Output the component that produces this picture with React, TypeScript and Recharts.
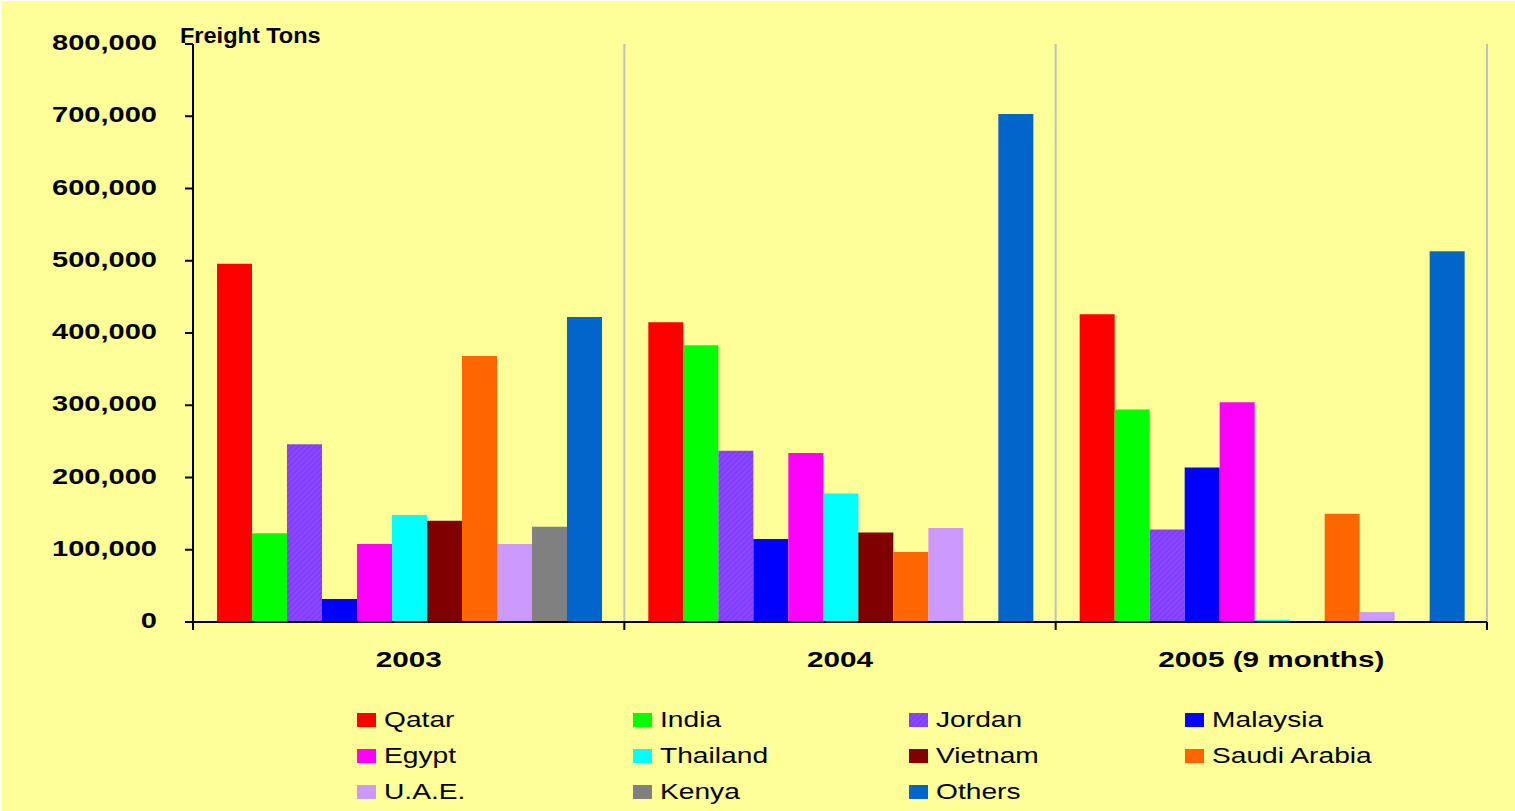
import { BarChart, Bar, XAxis, YAxis, CartesianGrid, Legend, Label } from "recharts";

const years = ["2003", "2004", "2005 (9 months)"];

// freight tons per destination, one value per year
const qatar = [496000, 415000, 426000];
const india = [123000, 383000, 294000];
const jordan = [246000, 237000, 128000];
const malaysia = [32000, 115000, 214000];
const egypt = [108000, 234000, 304000];
const thailand = [148000, 178000, 3000];
const vietnam = [140000, 124000, null];
const saudiArabia = [368000, 97000, 150000];
const uae = [108000, 130000, 14000];
const kenya = [132000, null, null];
const others = [422000, 703000, 513000];

const yTicks = [0, 100000, 200000, 300000, 400000, 500000, 600000, 700000, 800000];

const series: { name: string; values: (number | null)[] }[] = [
  { name: "Qatar", values: qatar },
  { name: "India", values: india },
  { name: "Jordan", values: jordan },
  { name: "Malaysia", values: malaysia },
  { name: "Egypt", values: egypt },
  { name: "Thailand", values: thailand },
  { name: "Vietnam", values: vietnam },
  { name: "Saudi Arabia", values: saudiArabia },
  { name: "U.A.E.", values: uae },
  { name: "Kenya", values: kenya },
  { name: "Others", values: others },
];

const colors: Record<string, string> = {
  Qatar: "#FF0000",
  India: "#00FF00",
  Jordan: "url(#jordanHatch)",
  Malaysia: "#0000FF",
  Egypt: "#FF00FF",
  Thailand: "#00FFFF",
  Vietnam: "#800000",
  "Saudi Arabia": "#FF6600",
  "U.A.E.": "#CC99FF",
  Kenya: "#808080",
  Others: "#0066CC",
};

const data = years.map((year, i) => {
  const row: Record<string, string | number | null> = { year };
  series.forEach((s) => {
    row[s.name] = s.values[i];
  });
  return row;
});

const CHART_W = 1515;
const CHART_H = 811;
const MARGIN = { top: 44, right: 28, left: 0, bottom: 129 };
const Y_AXIS_W = 193;
const X_AXIS_H = 60;
const PLOT_LEFT = MARGIN.left + Y_AXIS_W;
const PLOT_W = CHART_W - PLOT_LEFT - MARGIN.right;
const PLOT_BOTTOM = CHART_H - MARGIN.bottom - X_AXIS_H;
const BAND = PLOT_W / years.length;

const FONT = "'Liberation Sans', Arial, sans-serif";
const STRETCH = 1.32;
const BG = "#FFFF99";

const fmt = (v: number) => v.toLocaleString("en-US");

const YTick = ({ x, y, payload }: any) => (
  <text
    transform={`translate(${x},${y}) scale(${STRETCH},1)`}
    textAnchor="end"
    dy={6}
    fontFamily={FONT}
    fontWeight="bold"
    fontSize={22}
    fill="#000"
  >
    {fmt(payload.value)}
  </text>
);

// category label plus the boundary tick marks on each side of the band
const XTick = ({ x, payload, index }: any) => {
  const half = BAND / 2;
  return (
    <g>
      <line x1={x - half} x2={x - half} y1={PLOT_BOTTOM} y2={PLOT_BOTTOM + 8} stroke="#000" strokeWidth={2} />
      {index === years.length - 1 && (
        <line x1={x + half} x2={x + half} y1={PLOT_BOTTOM} y2={PLOT_BOTTOM + 8} stroke="#000" strokeWidth={2} />
      )}
      <text
        transform={`translate(${x},${PLOT_BOTTOM + 45}) scale(${STRETCH},1)`}
        textAnchor="middle"
        fontFamily={FONT}
        fontWeight="bold"
        fontSize={22.5}
        fill="#000"
      >
        {payload.value}
      </text>
    </g>
  );
};

// legend keeps the series order, four entries per row
const renderLegend = (props: any) => {
  const entries = series
    .map((s) => (props.payload || []).find((e: any) => e.value === s.name))
    .filter(Boolean);
  return (
    <div
      style={{
        display: "grid",
        gridTemplateColumns: "repeat(4, 276px)",
        gridAutoRows: "36px",
        paddingLeft: 357,
        fontFamily: FONT,
        color: "#000",
      }}
    >
      {entries.map((entry: any) => (
        <div key={entry.value} style={{ display: "flex", alignItems: "center" }}>
          <svg width={19} height={14} style={{ marginRight: 8, flex: "none" }}>
            <rect width={19} height={14} fill={entry.color} />
          </svg>
          <span
            style={{
              fontSize: 21.5,
              lineHeight: "36px",
              whiteSpace: "nowrap",
              display: "inline-block",
              transform: "scaleX(1.31)",
              transformOrigin: "left center",
            }}
          >
            {entry.value}
          </span>
        </div>
      ))}
    </div>
  );
};

export default function App() {
  return (
    <div
      style={{
        position: "absolute",
        left: 0,
        top: 0,
        width: CHART_W,
        height: CHART_H,
        background: BG,
        boxShadow: "inset 2px 1px 0 #fff",
      }}
    >
      <BarChart
        width={CHART_W}
        height={CHART_H}
        data={data}
        margin={MARGIN}
        barGap={0}
        barCategoryGap={24}
      >
        <defs>
          <pattern id="jordanHatch" width="4" height="4" patternUnits="userSpaceOnUse" patternTransform="rotate(45)">
            <rect width="4" height="4" fill="#7F3FFF" />
            <line x1="0" y1="0" x2="0" y2="4" stroke="#A64DFF" strokeWidth="1.5" />
          </pattern>
        </defs>
        <CartesianGrid
          horizontal={false}
          stroke="#C0C0C0"
          strokeWidth={2}
          verticalCoordinatesGenerator={({ offset }: any) =>
            years.map((_, i) => offset.left + (offset.width * (i + 1)) / years.length)
          }
        />
        <XAxis
          dataKey="year"
          height={X_AXIS_H}
          tickLine={false}
          axisLine={{ stroke: "#000", strokeWidth: 2 }}
          tick={(p: any) => <XTick {...p} />}
          interval={0}
        />
        <YAxis
          width={Y_AXIS_W}
          domain={[0, 800000]}
          ticks={yTicks}
          interval={0}
          tickSize={8}
          tickMargin={28}
          tickLine={{ stroke: "#000", strokeWidth: 2 }}
          axisLine={{ stroke: "#000", strokeWidth: 2 }}
          tick={(p: any) => <YTick {...p} />}
        >
          <Label
            content={() => (
              <text
                transform={`translate(${PLOT_LEFT - 13},${MARGIN.top - 1}) scale(1.07,1)`}
                fontFamily={FONT}
                fontWeight="bold"
                fontSize={22}
                fill="#000"
              >
                Freight Tons
              </text>
            )}
          />
        </YAxis>
        <Legend
          layout="horizontal"
          verticalAlign="middle"
          align="center"
          content={renderLegend}
          wrapperStyle={{ top: 702, left: 0, width: CHART_W }}
        />
        {series.map((s) => (
          <Bar key={s.name} dataKey={s.name} name={s.name} fill={colors[s.name]} isAnimationActive={false} />
        ))}
      </BarChart>
    </div>
  );
}
